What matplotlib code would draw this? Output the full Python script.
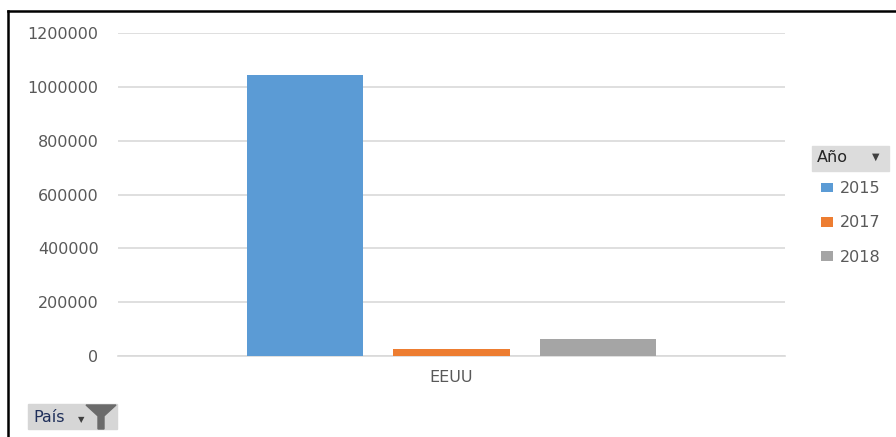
import matplotlib.pyplot as plt
from matplotlib.patches import Rectangle, Polygon
from matplotlib.lines import Line2D

# datos
paises = ['EEUU']
anios = ['2015', '2017', '2018']
valores = [1044000, 27000, 62000]
colores = ['#5b9bd5', '#ed7d31', '#a5a5a5']
yticks = [0, 200000, 400000, 600000, 800000, 1000000, 1200000]

W, H = 896, 437
fig = plt.figure(figsize=(W / 100, H / 100), dpi=100)
plt.rcParams['font.family'] = ['DejaVu Sans']

ax = fig.add_axes([118 / W, (H - 356) / H, (785 - 118) / W, (356 - 33) / H])

ancho = 0.174
paso = 0.2196
barras = []
for i, (a, v, c) in enumerate(zip(anios, valores, colores)):
    b = ax.bar(0 + (i - 1) * paso, v, width=ancho, color=c, label=a, zorder=3)
    barras.append(b)

ax.set_xlim(-0.5, 0.5)
ax.set_ylim(0, 1200000)
ax.set_yticks(yticks)
ax.set_yticklabels([str(t) for t in yticks])
ax.set_xticks([0])
ax.set_xticklabels(paises)
ax.grid(axis='y', color='#d9d9d9', linewidth=1.2, zorder=0)
for s in ['top', 'right', 'left']:
    ax.spines[s].set_visible(False)
ax.spines['bottom'].set_color('#d9d9d9')
ax.spines['bottom'].set_linewidth(1.2)
ax.tick_params(axis='both', length=0, labelsize=11.5, colors='#595959')
ax.tick_params(axis='y', pad=14)
ax.tick_params(axis='x', pad=10)

# leyenda
fig.legend(handles=[b[0] for b in barras], labels=anios,
           loc='upper left', bbox_to_anchor=(810 / W, (H - 170) / H),
           frameon=False, fontsize=11.5, labelcolor='#595959',
           handlelength=0.75, handleheight=0.55, handletextpad=0.4,
           labelspacing=1.2, borderpad=0.2)

# boton "Año"
fig.patches.append(Rectangle((812 / W, (H - 171) / H), 77 / W, 25 / H,
                             transform=fig.transFigure, color='#dcdcdc', zorder=1))
fig.text(817 / W, (H - 158) / H, 'Año', fontsize=11.5, color='#262626',
         va='center', ha='left')
fig.text(876 / W, (H - 157) / H, '▼', fontsize=7, color='#404040',
         va='center', ha='center')

# boton "País"
fig.patches.append(Rectangle((28 / W, (H - 429) / H), 89 / W, 25 / H,
                             transform=fig.transFigure, color='#d6d6d6', zorder=1))
fig.text(33 / W, (H - 417) / H, 'País', fontsize=11.5, color='#1f2f5a',
         va='center', ha='left')
fig.text(81 / W, (H - 420) / H, '▼', fontsize=6, color='#404040',
         va='center', ha='center')
embudo = [(86, 405), (116, 405), (104, 416), (104, 429), (98, 429), (98, 416)]
fig.patches.append(Polygon([(x / W, (H - y) / H) for x, y in embudo],
                           closed=True, transform=fig.transFigure,
                           color='#6b6b6b', zorder=2))

# marco
fig.add_artist(Line2D([8 / W, 1], [(H - 11) / H, (H - 11) / H],
                      transform=fig.transFigure, color='black', linewidth=1.8))
fig.add_artist(Line2D([8 / W, 8 / W], [0, (H - 11) / H],
                      transform=fig.transFigure, color='black', linewidth=1.8))

fig.savefig('out.png', dpi=100)
